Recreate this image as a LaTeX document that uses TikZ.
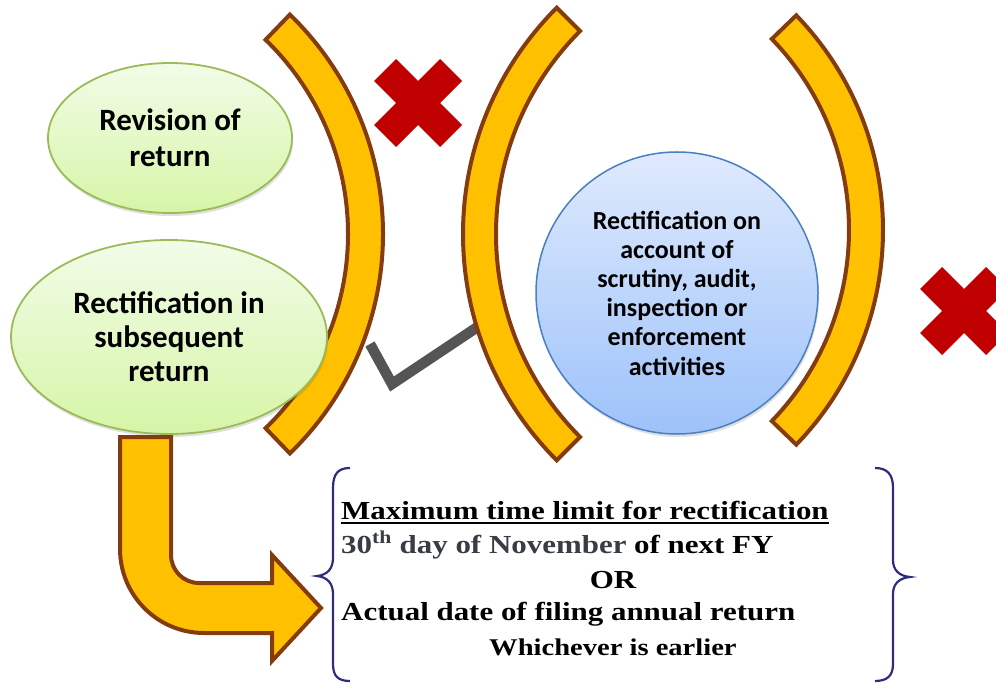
\documentclass[tikz,border=0pt]{standalone}
\usepackage{fontspec}
\setmainfont{Carlito}
\newfontfamily\cambria[FakeStretch=1.19]{Liberation Serif}
\usetikzlibrary{shapes.geometric,shadows}
\definecolor{gold}{HTML}{FFC000}
\definecolor{brn}{HTML}{843C0C}
\definecolor{xred}{HTML}{C00000}
\definecolor{grnb}{HTML}{9BBB59}
\definecolor{grnt}{HTML}{F2FCE8}
\definecolor{grnbot}{HTML}{D6F5A7}
\definecolor{blub}{HTML}{4A7FC0}
\definecolor{blut}{HTML}{DFEAFD}
\definecolor{blubot}{HTML}{9DC2FA}
\definecolor{navy}{HTML}{2F2C7D}
\definecolor{chk}{HTML}{555555}
\definecolor{dgray}{HTML}{383D44}
\begin{document}
\begin{tikzpicture}[x=1pt,y=-1pt,
  band/.style={fill=gold,draw=brn,line width=4pt,line join=miter},
  softshadow/.style={drop shadow={shadow xshift=1pt,shadow yshift=-3pt,opacity=0.12,fill=black}},
  greenell/.style={ellipse,draw=grnb,line width=1.8pt,top color=grnt,bottom color=grnbot,
    inner sep=0pt,align=center,softshadow},
  bluecirc/.style={circle,draw=blub,line width=1.5pt,top color=blut,bottom color=blubot,
    inner sep=0pt,align=center,softshadow},
  cross/.style={fill=xred},
  brace/.style={draw=navy,line width=2.2pt},
  txt/.style={inner sep=0pt,anchor=base west,font=\cambria\bfseries\fontsize{26}{30}\selectfont}
]
\useasboundingbox (0,0) rectangle (996,684);

% brackets
\draw[band] (78,234) ++(-46:305) arc[start angle=-46,end angle=46,radius=305]
  -- ++(46:-35) arc[start angle=46,end angle=-46,radius=270] -- cycle;
% check mark
\draw[chk,line width=10.5pt,line join=miter] (370,344) -- (392,384) -- (479,326);
\draw[band] (783,234) ++(135:320) arc[start angle=135,end angle=225,radius=320]
  -- ++(225:-33) arc[start angle=225,end angle=135,radius=287] -- cycle;
\draw[band] (574,230) ++(-44:309) arc[start angle=-44,end angle=44,radius=309]
  -- ++(44:-34) arc[start angle=44,end angle=-44,radius=275] -- cycle;

% red crosses
\foreach \c in {(418,103),(964,311)}{
  \fill[cross] \c ++(0,-22) -- ++(22,-22) -- ++(22,22) -- ++(-22,22) -- ++(22,22)
    -- ++(-22,22) -- ++(-22,-22) -- ++(-22,22) -- ++(-22,-22) -- ++(22,-22)
    -- ++(-22,-22) -- ++(22,-22) -- cycle;
}

% ellipses and circle
\node[greenell,minimum width=244pt,minimum height=150pt,
  font=\bfseries\fontsize{31}{36}\selectfont] (rev) at (170,138) {Revision of\\return};
\node[greenell,minimum width=316pt,minimum height=194pt,
  font=\bfseries\fontsize{31}{34}\selectfont] (rect) at (169,337) {Rectification in\\subsequent\\return};
\node[bluecirc,minimum size=282pt,
  font=\bfseries\fontsize{26}{29.2}\selectfont] (scr) at (677,293)
  {Rectification on\\account of\\scrutiny, audit,\\inspection or\\enforcement\\activities};

% bent arrow
\draw[band] (120,437) -- (171,437) -- (171,555) arc[start angle=180,end angle=90,radius=28]
  -- (272,583) -- (272,555) -- (321,608) -- (272,661) -- (272,633) -- (204,633)
  arc[start angle=90,end angle=180,radius=84] -- cycle;

% braces
\draw[brace] (350,468) .. controls (338,468) and (333,474) .. (333,488) -- (333,558)
  .. controls (333,569) and (327,575) .. (317,576) .. controls (327,577) and (333,583) .. (333,594)
  -- (333,664) .. controls (333,676) and (338,681) .. (350,681);
\draw[brace] (875,468) .. controls (887,468) and (893,474) .. (893,488) -- (893,560)
  .. controls (893,570) and (899,576) .. (910,577) .. controls (899,578) and (893,584) .. (893,594)
  -- (893,664) .. controls (893,676) and (887,681) .. (875,681);

% texts
\node[txt] (t1) at (341,519) {Maximum time limit for rectification};
\draw[line width=2pt] ([yshift=-3.5pt]t1.base west) -- ([yshift=-3.5pt]t1.base east);
\node[txt] (t2) at (341,553) {{\color{dgray}30\textsuperscript{th} day of November} of next FY};
\node[txt,anchor=base] (t3) at (613,588) {OR};
\node[txt] (t4) at (341,620) {Actual date of filing annual return};
\node[txt,font=\cambria\bfseries\fontsize{24}{28}\selectfont] (t5) at (489,655) {Whichever is earlier};
\end{tikzpicture}
\end{document}
